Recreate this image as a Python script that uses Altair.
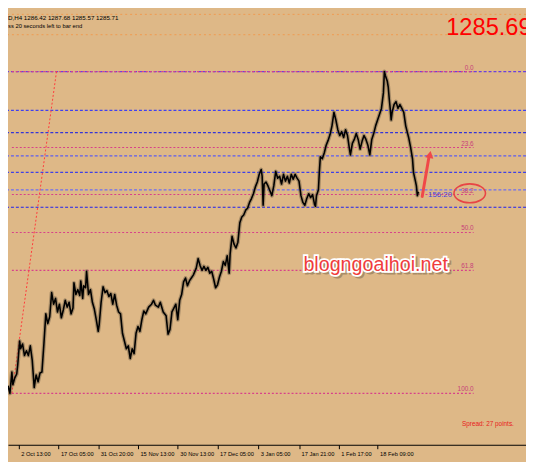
import altair as alt
import pandas as pd

# ---------------- data ----------------
bars = [0, 2, 4, 5, 7, 9, 10, 12, 13, 15, 17, 19, 21, 23, 25, 27, 29, 31, 33, 35, 37, 39, 41, 43, 45, 47, 49,
        51, 53, 55, 57, 59, 61, 63, 65, 67, 68, 70, 72, 74, 75, 77, 78, 80, 81, 83, 85, 87, 89, 91, 93, 94,
        96, 98, 100, 102, 104, 106, 108, 110, 112, 114, 116, 118, 120, 122, 124, 126, 128, 130, 132, 134,
        136, 138, 140, 142, 145, 148, 150, 152, 155, 157, 160, 163, 165, 167, 169, 171, 173, 175, 177, 179,
        181, 183, 185, 187, 189, 191, 194, 196, 198, 200, 202, 204, 206, 208, 210, 212, 214, 216, 218, 220,
        222, 224, 226, 228, 229, 231, 233, 235, 237, 239, 241, 243, 245, 247, 249, 251, 253, 255, 257, 259,
        261, 262, 263, 264, 266, 268, 270, 272, 274, 276, 278, 280, 282, 284, 286, 288, 290, 292, 294, 296,
        298, 300, 302, 304, 306, 308, 310, 312, 314, 316, 317, 318, 320, 321, 322, 324, 326, 328, 330, 332,
        334, 336, 338, 340, 342, 344, 346, 348, 350, 352, 353, 355, 357, 359, 361, 363, 365, 367, 369, 371,
        373, 375, 377, 379, 381, 383, 385, 387, 388, 389, 391, 392, 393, 394, 395, 396, 398, 400, 402, 404,
        406, 408, 410, 412, 413, 415, 417, 418, 420, 421, 422, 423]

close = [1235.7, 1233.7, 1239.2, 1235.95, 1237.7, 1238.7, 1240.95, 1247.2, 1245.2, 1246.45, 1243.45, 1244.7,
         1243.45, 1245.95, 1242.2, 1235.2, 1238.45, 1236.7, 1238.95, 1239.2, 1246.45, 1254.2, 1251.7, 1253.45,
         1259.7, 1256.7, 1258.2, 1254.7, 1256.7, 1253.2, 1255.2, 1257.7, 1255.95, 1257.2, 1254.2, 1255.7,
         1262.2, 1259.2, 1260.45, 1258.95, 1262.7, 1258.2, 1261.45, 1260.95, 1265.2, 1259.2, 1260.45, 1257.2,
         1255.45, 1252.7, 1249.7, 1251.45, 1257.2, 1261.2, 1259.7, 1260.2, 1258.7, 1259.45, 1256.7, 1259.2,
         1256.45, 1254.7, 1254.2, 1249.2, 1247.2, 1245.2, 1245.95, 1242.7, 1245.2, 1243.95, 1249.2, 1250.95,
         1249.7, 1252.7, 1254.95, 1254.2, 1255.95, 1256.7, 1257.7, 1256.45, 1255.95, 1257.2, 1254.7, 1253.7,
         1248.95, 1250.2, 1254.7, 1255.7, 1256.7, 1252.7, 1257.7, 1259.2, 1262.45, 1263.45, 1261.45, 1262.7,
         1263.45, 1264.2, 1265.95, 1268.45, 1266.7, 1265.45, 1266.45, 1265.45, 1266.2, 1264.7, 1265.2, 1263.2,
         1260.95, 1261.7, 1263.7, 1265.2, 1267.7, 1266.7, 1269.2, 1264.7, 1269.7, 1274.2, 1272.2, 1271.2,
         1272.7, 1277.7, 1279.2, 1279.7, 1280.95, 1281.45, 1282.95, 1283.95, 1285.2, 1286.95, 1288.2, 1290.2,
         1291.45, 1289.7, 1282.2, 1287.7, 1288.2, 1287.2, 1285.95, 1284.7, 1287.2, 1290.95, 1289.2, 1289.7,
         1287.7, 1290.2, 1288.45, 1289.7, 1287.95, 1290.2, 1288.95, 1290.2, 1289.2, 1288.45, 1284.7, 1282.95,
         1282.2, 1283.95, 1285.2, 1284.2, 1284.95, 1282.45, 1281.95, 1284.7, 1286.2, 1290.95, 1294.7, 1294.2,
         1295.7, 1297.7, 1298.95, 1300.45, 1302.7, 1306.2, 1304.2, 1301.7, 1300.2, 1301.2, 1299.7, 1301.7,
         1300.2, 1296.7, 1295.2, 1298.2, 1299.2, 1300.7, 1299.2, 1296.7, 1298.7, 1300.2, 1299.2, 1297.7,
         1295.2, 1299.2, 1300.7, 1302.7, 1304.2, 1305.7, 1307.2, 1311.2, 1316.7, 1315.7, 1314.2, 1312.7,
         1309.7, 1307.2, 1304.2, 1306.2, 1308.2, 1308.95, 1307.2, 1308.2, 1307.2, 1306.2, 1302.7, 1300.7,
         1299.7, 1297.2, 1294.2, 1290.7, 1288.45, 1287.2, 1284.7, 1285.7]

tick_bars = [11, 52, 93, 134, 175, 216, 258, 300, 341, 381]
tick_labels = ["2 Oct 13:00", "17 Oct 05:00", "31 Oct 20:00", "15 Nov 13:00", "30 Nov 13:00",
               "17 Dec 05:00", "3 Jan 05:00", "17 Jan 21:00", "1 Feb 17:00", "18 Feb 09:00"]

fib_ratios = [0.0, 23.6, 38.2, 50.0, 61.8, 100.0]
fib_high = 1316.7
fib_low = 1233.7
fib_from_bar = 4
fib_to_bar = 480

level_prices = [1316.7, 1306.7, 1300.95, 1294.95, 1290.7, 1286.2, 1281.7]
level_colors = ["#6a3ee0", "#4040f0", "#3434d8", "#5c5cf0", "#4040e6", "#6e6ef2", "#2020f0"]

top_prices = [1331.45, 1326.2]

trend_bar = [4, 50]
trend_price = [1233.7, 1316.7]

arrow_bar = [427, 434]
arrow_price = [1284.5, 1294.7]
arrow_head = (435, 1295.3)

ellipse_center = (476, 1285.3)

price_text = "1285.69"
header_1 = "D,H4  1286.42 1287.68 1285.57 1285.71"
header_2 = "ss 20 seconds left to bar end"

# ---------------- tables ----------------
price_df = pd.DataFrame({"bar": bars, "price": close})
fib_df = pd.DataFrame({
    "ratio": fib_ratios,
    "label": [f"{r:.1f}" for r in fib_ratios],
    "price": [fib_high - (fib_high - fib_low) * r / 100 for r in fib_ratios],
    "b0": fib_from_bar, "b1": fib_to_bar,
})
level_df = pd.DataFrame({"price": level_prices, "color": level_colors})
top_df = pd.DataFrame({"price": top_prices})
trend_df = pd.DataFrame({"bar": trend_bar, "price": trend_price})
arrow_df = pd.DataFrame({"b0": [arrow_bar[0]], "b1": [arrow_bar[1]],
                         "p0": [arrow_price[0]], "p1": [arrow_price[1]]})
head_df = pd.DataFrame({"bar": [arrow_head[0]], "price": [arrow_head[1]]})
ell_df = pd.DataFrame({"bar": [ellipse_center[0]], "price": [ellipse_center[1]]})
note_df = pd.DataFrame({"bar": [433], "price": [1284.3], "text": ["156:20"]})
wm_df = pd.DataFrame({"bar": [379], "price": [1265.2], "text": ["blogngoaihoi.net"]})
spread_df = pd.DataFrame({"bar": [468], "price": [1225.4], "text": ["Spread: 27 points."]})

xscale = alt.Scale(domain=[0, 534], nice=False, zero=False)
yscale = alt.Scale(domain=[1220.45, 1332.2], nice=False, zero=False)

label_expr = "".join(f"datum.value == {b} ? '{l}' : " for b, l in zip(tick_bars, tick_labels)) + "''"
xaxis = alt.Axis(values=tick_bars, labelExpr=label_expr, labelAlign="left", labelBaseline="top",
                 labelOffset=2, labelPadding=2, labelFontSize=5.8, labelFont="Liberation Sans",
                 labelColor="black", tickSize=4, tickColor="black", domainColor="black", domainWidth=1,
                 grid=False, labelOverlap=False, labelBound=False, labelFlush=False, title=None)


def X(f):
    return alt.X(f, type="quantitative", scale=xscale, axis=xaxis, title=None)


def Y(f):
    return alt.Y(f, type="quantitative", scale=yscale, axis=None, title=None)


top_lines = alt.Chart(top_df).mark_rule(color="#f09a50", strokeDash=[2, 3], strokeWidth=1).encode(y=Y("price"))

levels = alt.Chart(level_df).mark_rule(strokeDash=[3, 2], strokeWidth=1.2).encode(
    y=Y("price"), color=alt.Color("color:N", scale=None))

fib_lines = alt.Chart(fib_df).mark_rule(color="#d8408a", strokeDash=[2, 2], strokeWidth=1.2).encode(
    x=X("b0"), x2="b1", y=Y("price"))

fib_labels = alt.Chart(fib_df).mark_text(color="#c8407a", align="right", baseline="bottom", dy=-1,
                                         fontSize=6.5, font="Liberation Sans").encode(
    x=X("b1"), y=Y("price"), text="label:N")

trend = alt.Chart(trend_df).mark_line(color="#ff3b3b", strokeDash=[2, 2], strokeWidth=1).encode(
    x=X("bar"), y=Y("price"))

halo = alt.Chart(price_df).mark_line(color="#6e5e48", strokeWidth=4, opacity=0.5,
                                     strokeJoin="round").encode(x=X("bar"), y=Y("price"))
line = alt.Chart(price_df).mark_line(color="black", strokeWidth=1.6, strokeJoin="round").encode(
    x=X("bar"), y=Y("price"))

shaft = alt.Chart(arrow_df).mark_rule(color="#f04848", strokeWidth=3, strokeCap="round").encode(
    x=X("b0"), x2="b1", y=Y("p0"), y2="p1")
head = alt.Chart(head_df).mark_point(shape="triangle-up", filled=True, color="#f04848", size=70,
                                     angle=11, opacity=1).encode(x=X("bar"), y=Y("price"))

ellipse = alt.Chart(ell_df).mark_point(shape="M-1,0A1,0.6,0,1,1,1,0A1,0.6,0,1,1,-1,0Z", size=1024,
                                       filled=False, color="#e84545", strokeWidth=1.6,
                                       opacity=1).encode(x=X("bar"), y=Y("price"))

note = alt.Chart(note_df).mark_text(color="#4545e0", align="left", baseline="alphabetic", fontSize=8,
                                    font="Liberation Sans").encode(x=X("bar"), y=Y("price"), text="text:N")

wm_kw = dict(align="center", baseline="alphabetic", fontSize=20, font="Liberation Sans")
wm_shadow = alt.Chart(wm_df).mark_text(color="#6b5842", opacity=0.45, dx=2, dy=2, stroke="#6b5842",
                                       strokeWidth=3, **wm_kw).encode(x=X("bar"), y=Y("price"), text="text:N")
wm_outline = alt.Chart(wm_df).mark_text(color="white", stroke="white", strokeWidth=3.5, **wm_kw).encode(
    x=X("bar"), y=Y("price"), text="text:N")
wm_text = alt.Chart(wm_df).mark_text(color="#f03c3c", **wm_kw).encode(
    x=X("bar"), y=Y("price"), text="text:N")

spread = alt.Chart(spread_df).mark_text(color="#e82020", align="left", baseline="alphabetic", fontSize=6.5,
                                        font="Liberation Sans").encode(x=X("bar"), y=Y("price"), text="text:N")

hdr1 = alt.Chart(pd.DataFrame({"t": [header_1]})).mark_text(
    align="left", baseline="alphabetic", fontSize=6.3, font="Liberation Sans", color="black").encode(
    x=alt.value(0), y=alt.value(9), text="t:N")
hdr2 = alt.Chart(pd.DataFrame({"t": [header_2]})).mark_text(
    align="left", baseline="alphabetic", fontSize=5.9, font="Liberation Sans", color="black").encode(
    x=alt.value(0), y=alt.value(17), text="t:N")
big = alt.Chart(pd.DataFrame({"t": [price_text]})).mark_text(
    align="left", baseline="alphabetic", fontSize=24, font="Liberation Sans", color="#ff0000").encode(
    x=alt.value(445), y=alt.value(24), text="t:N")

chart = alt.layer(
    top_lines, levels, fib_lines, fib_labels, trend, halo, line, shaft, head, ellipse, note,
    wm_shadow, wm_outline, wm_text, spread, hdr1, hdr2, big
).properties(
    width=526, height=440, background="#DEB887",
    padding={"left": 0, "top": 0, "right": 0, "bottom": 14},
    autosize=alt.AutoSizeParams(type="none"),
).configure_view(stroke=None)

chart.save("out.html", embed_options={"renderer": "svg", "actions": False})
